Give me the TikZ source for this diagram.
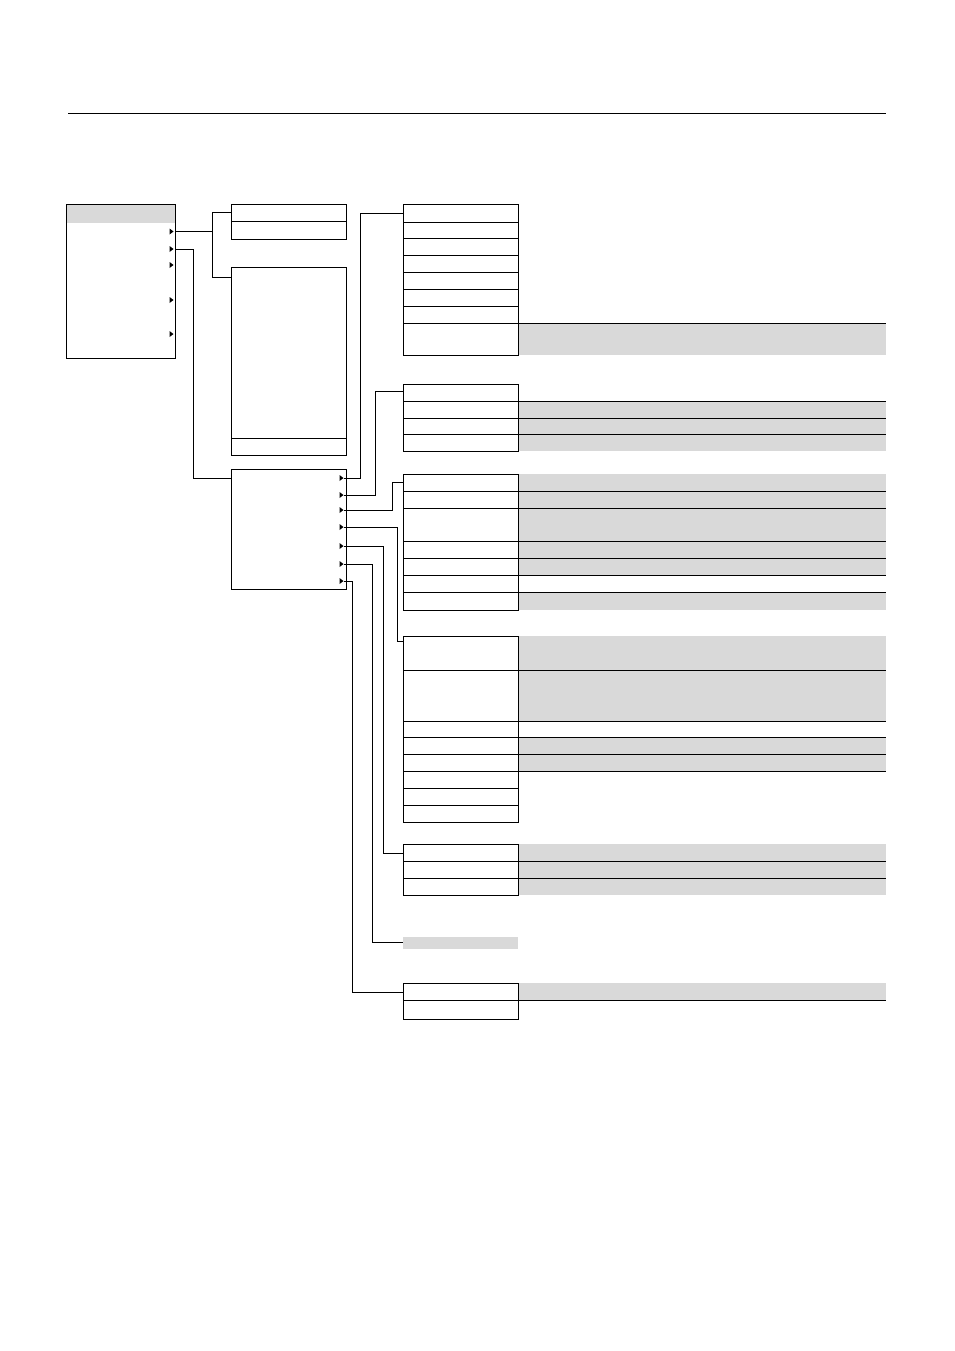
\documentclass[tikz,border=0pt]{standalone}
\definecolor{bandgrey}{HTML}{D9D9D9}
\begin{document}
\begin{tikzpicture}[x=1pt,y=-1pt,line width=1pt,
  box/.style={draw=black},
  band/.style={fill=bandgrey,draw=none},
  conn/.style={draw=black,line width=0.9pt},
  tip/.style={fill=black}]
\useasboundingbox (0,0) rectangle (954,1351);
\draw (68,114) -- (886,114);
% main box
\fill[bandgrey] (66.5,204.5) rectangle (175.5,223);
\draw (66.5,204.5) rectangle (175.5,358);
\foreach \y in {231.5,249,265,300,334}{\fill (169.5,\y-3) -- (173.5,\y) -- (169.5,\y+3) -- cycle;}
% box A, B, C
\draw (231,204) rectangle (346,239); \draw (231,221) -- (346,221);
\draw (231,267) rectangle (346,455); \draw (231,438) -- (346,438);
\draw (231,469) rectangle (346,589);
\foreach \y in {478,495,510,527,546,564,581}{\fill (339.5,\y-3) -- (343.5,\y) -- (339.5,\y+3) -- cycle;}
% connectors from main
\coordinate (m1) at (175.5,231.5); \coordinate (m2) at (175.5,249);
\coordinate (a) at (231,212); \coordinate (b) at (231,277); \coordinate (c) at (231,478);
\draw[conn] (m1) -- (212,231.5);
\draw[conn] (a) -| (212,277) -- (b);
\draw[conn] (m2) -| (193,478) -- (c);
% helper
\newcommand\rows[2]{% #1 = list of y boundaries, #2 top/bottom
}
% grey bands
\foreach \t/\b in {323/355, 401/451, 474/575, 592/610, 636/721, 737/771, 844/895, 983/1000}
  {\fill[bandgrey] (518,\t) rectangle (886,\b);}
\fill[bandgrey] (403,937) rectangle (518,949);
% extended lines
\foreach \y in {323,401,418,434,491,508,541,558,575,592,670,721,737,754,771,861,878,1000}
  {\draw (518,\y) -- (886,\y);}
% right column boxes
\draw (403,204) rectangle (518,355);
\foreach \y in {222,238,255,272,289,306,323}{\draw (403,\y) -- (518,\y);}
\draw (403,384) rectangle (518,451);
\foreach \y in {401,418,434}{\draw (403,\y) -- (518,\y);}
\draw (403,474) rectangle (518,610);
\foreach \y in {491,508,541,558,575,592}{\draw (403,\y) -- (518,\y);}
\draw (403,636) rectangle (518,822);
\foreach \y in {670,721,737,754,771,788,805}{\draw (403,\y) -- (518,\y);}
\draw (403,844) rectangle (518,895);
\foreach \y in {861,878}{\draw (403,\y) -- (518,\y);}
\draw (403,983) rectangle (518,1019);
\draw (403,1000) -- (518,1000);
% connectors from C
\coordinate (g1) at (403,213); \coordinate (g2) at (403,391);
\coordinate (g3) at (403,482); \coordinate (g4) at (403,641);
\coordinate (g5) at (403,853); \coordinate (g6) at (403,942);
\coordinate (g7) at (403,992);
\draw[conn] (343.5,478) -| (360,213) -- (g1);
\draw[conn] (343.5,495) -| (375,391) -- (g2);
\draw[conn] (343.5,510) -| (392,482) -- (g3);
\draw[conn] (343.5,527) -| (397,641) -- (g4);
\draw[conn] (343.5,546) -| (383,853) -- (g5);
\draw[conn] (343.5,564) -| (372,942) -- (g6);
\draw[conn] (343.5,581) -| (352,992) -- (g7);
\end{tikzpicture}
\end{document}
